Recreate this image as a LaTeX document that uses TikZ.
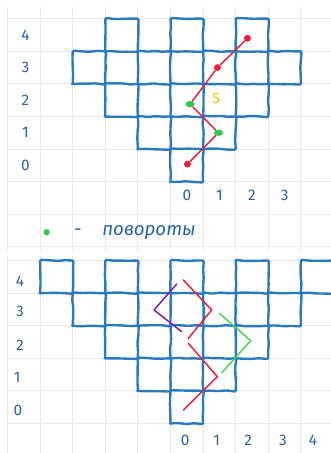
\documentclass[tikz,border=0pt]{standalone}
\usepackage{fontspec}
\setmainfont{Fira Sans}
\usetikzlibrary{positioning, shapes.geometric, decorations.pathmorphing}
\definecolor{inkblue}{RGB}{42, 122, 194}
\definecolor{labelblue}{RGB}{38, 98, 172}
\definecolor{gridgray}{RGB}{232, 234, 237}
\definecolor{pathred}{RGB}{228, 32, 60}
\definecolor{turngreen}{RGB}{50, 200, 75}
\definecolor{linegreen}{RGB}{72, 214, 82}
\definecolor{pathpurple}{RGB}{135, 25, 165}
\definecolor{markyellow}{RGB}{245, 195, 20}

\begin{document}
\pgfmathsetseed{11}
\begin{tikzpicture}[
    x=24.45pt, y=24.45pt,
    gridline/.style={draw=gridgray, line width=0.7pt},
    cellbox/.style={draw=inkblue, line width=1.8pt, line cap=round, line join=round, decorate, decoration={random steps, segment length=6pt, amplitude=0.45pt}, rounded corners=1pt},
    axislabel/.style={text=labelblue, font=\fontsize{11.5}{13}\selectfont, inner sep=0pt},
    redpath/.style={draw=pathred, line width=1.1pt, line cap=round, line join=round},
    enddot/.style={circle, fill=pathred, minimum size=5.2pt, inner sep=0pt},
    turndot/.style={ellipse, fill=turngreen, minimum width=6.8pt, minimum height=4.8pt, inner sep=0pt}
]
    \useasboundingbox (-5.230,-8.322) rectangle (4.923,5.574);

    % upper sheet
    \foreach \gx in {-5,...,4} \draw[gridline] (\gx,5.36) -- (\gx,-2.13);
    \foreach \gy in {-2,...,5} \draw[gridline] (-5,\gy) -- (4.923,\gy);
    \foreach \c/\r in {-2/4, 0/4, 2/4, -3/3, -1/3, 1/3, 3/3, -2/2, 0/2, 2/2, -1/1, 1/1, 0/0}
        \draw[cellbox] (\c,\r) rectangle ++(1,1);

    \foreach \r in {0,...,4} \node[axislabel] (tl\r) at (-4.45,\r+0.5) {\r};
    \foreach \c in {0,...,3} \node[axislabel] (tc\c) at (\c+0.5,-0.41) {\c};

    \node[enddot] (t0) at (0.52,0.54) {};
    \node[turndot] (t1) at (1.47,1.50) {};
    \node[turndot] (t2) at (0.60,2.38) {};
    \node[enddot] (t3) at (1.44,3.50) {};
    \node[enddot] (t4) at (2.36,4.40) {};
    \draw[redpath] (t0) -- (t1) -- (t2) -- (t3) -- (t4);
    \node[text=markyellow, font=\fontsize{11}{12}\selectfont] (smark) at (1.40,2.54) {S};

    % legend
    \node[circle, fill=turngreen, minimum size=4.6pt, inner sep=0pt] (legdot) at (-3.80,-1.55) {};
    \node[text=labelblue, font=\fontsize{14}{16}\selectfont, inner sep=0pt, right=18pt of legdot] (legdash) {-};
    \node[text=labelblue, font=\fontsize{14}{16}\selectfont\itshape, inner sep=0pt, right=15pt of legdash] (legtext) {повороты};

    % lower sheet
    \begin{scope}[shift={(0,-7.417)}]
        \foreach \gx in {-5,...,4} \draw[gridline] (\gx,5.14) -- (\gx,-0.91);
        \foreach \gy in {0,...,5} \draw[gridline] (-5,\gy) -- (4.923,\gy);
        \foreach \c/\r in {-4/4, -2/4, 0/4, 2/4, 4/4, -3/3, -1/3, 1/3, 3/3, -2/2, 0/2, 2/2, -1/1, 1/1, 0/0}
            \draw[cellbox] (\c,\r) rectangle ++(1,1);

        \node[axislabel] (bl4) at (-4.62,4.35) {4};
        \node[axislabel] (bl3) at (-4.62,3.43) {3};
        \node[axislabel] (bl2) at (-4.62,2.41) {2};
        \node[axislabel] (bl1) at (-4.70,1.43) {1};
        \node[axislabel] (bl0) at (-4.68,0.41) {0};
        \node[axislabel] (bc0) at (0.45,-0.51) {0};
        \node[axislabel] (bc1) at (1.42,-0.51) {1};
        \node[axislabel] (bc2) at (2.38,-0.51) {2};
        \node[axislabel] (bc3) at (3.45,-0.51) {3};
        \node[axislabel] (bc4) at (4.37,-0.51) {4};

        \coordinate (ra) at (0.393,4.402);
        \coordinate (rb) at (1.264,3.482);
        \coordinate (rc) at (0.546,2.613);
        \coordinate (rd) at (0.546,2.460);
        \coordinate (re) at (1.436,1.436);
        \coordinate (rf) at (0.393,0.414);
        \coordinate (pa) at (0.190,4.279);
        \coordinate (pb) at (-0.506,3.482);
        \coordinate (pc) at (0.344,2.816);
        \coordinate (ga) at (1.497,3.380);
        \coordinate (gb) at (2.460,2.540);
        \coordinate (gc) at (1.571,1.558);
        \draw[redpath] (ra) -- (rb) -- (rc);
        \draw[redpath] (rd) -- (re) -- (rf);
        \draw[redpath, draw=pathpurple] (pa) -- (pb) -- (pc);
        \draw[redpath, draw=linegreen] (ga) -- (gb) -- (gc);
    \end{scope}
\end{tikzpicture}
\end{document}
